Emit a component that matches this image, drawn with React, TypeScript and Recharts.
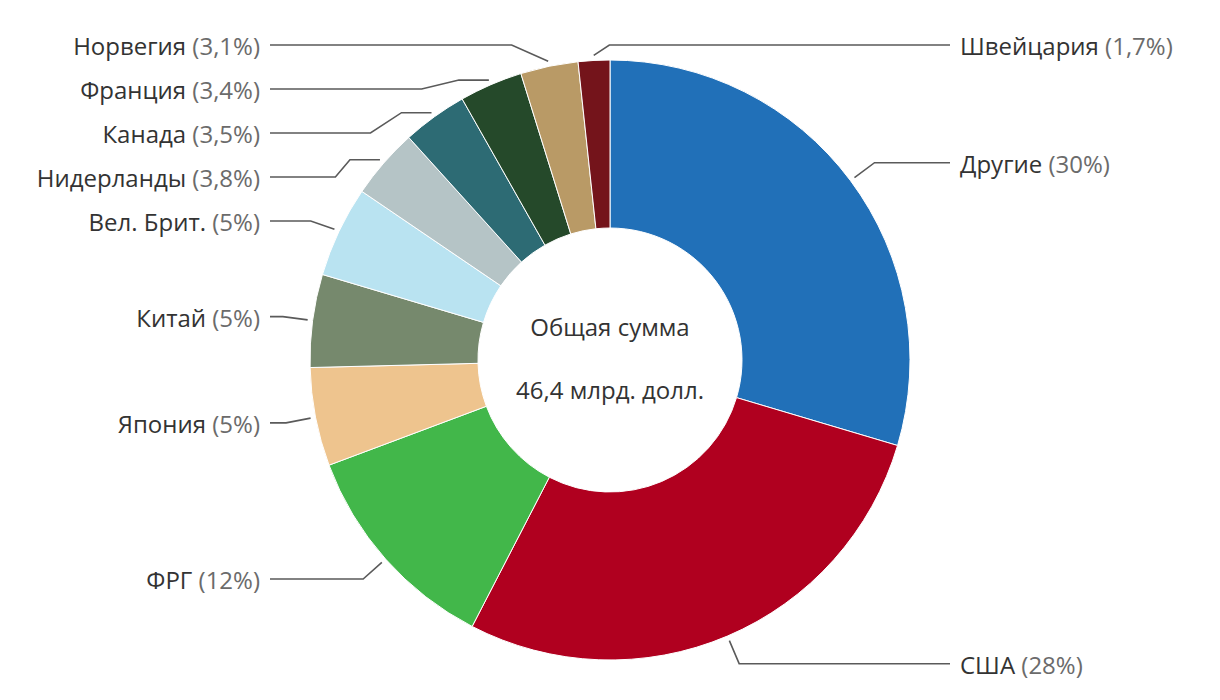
import { Cell, Label, Pie, PieChart } from "recharts";

const countries = [
  "Другие",
  "США",
  "ФРГ",
  "Япония",
  "Китай",
  "Вел. Брит.",
  "Нидерланды",
  "Канада",
  "Франция",
  "Норвегия",
  "Швейцария",
];
// shares (labels show them rounded)
const shares = [29.6, 28, 11.7, 5.3, 5, 4.9, 3.8, 3.5, 3.4, 3.1, 1.7];
const shareLabels = ["30%", "28%", "12%", "5%", "5%", "5%", "3,8%", "3,5%", "3,4%", "3,1%", "1,7%"];
const colors = [
  "#2170b8",
  "#b0001f",
  "#42b74a",
  "#eec48e",
  "#76896d",
  "#b9e3f1",
  "#b5c4c6",
  "#2d6b74",
  "#25492a",
  "#b99a66",
  "#74141b",
];
const centerLines = ["Общая сумма", "46,4 млрд. долл."];

const data = countries.map((name, i) => ({ name, value: shares[i] }));

const FONT = "'Open Sans', 'Noto Sans', sans-serif";
const FONT_SIZE = 24;
const LINE_GAP = 44;

// mid angles, clockwise from 12 o'clock, same order the pie draws them
const total = shares.reduce((a, b) => a + b, 0);
const mids = (() => {
  let acc = 0;
  return shares.map((v) => {
    const m = ((acc + v / 2) / total) * 360;
    acc += v;
    return m;
  });
})();

function layoutLabels(cx: number, cy: number, R: number) {
  const rStart = R + 5;
  const rElbow = R + 30;
  const items = mids.map((deg, i) => {
    const a = (deg * Math.PI) / 180;
    const sin = Math.sin(a);
    const cos = Math.cos(a);
    return {
      i,
      sin,
      cos,
      sx: cx + rStart * sin,
      sy: cy - rStart * cos,
      ny: cy - rElbow * cos,
      side: sin > -0.1 ? 1 : -1,
      y: 0,
    };
  });

  for (const side of [1, -1]) {
    const group = items.filter((d) => d.side === side).sort((a, b) => a.ny - b.ny);
    let prev = -Infinity;
    for (const d of group) {
      d.y = Math.max(d.ny, prev + LINE_GAP, cy - R - 15);
      prev = d.y;
    }
  }

  return items.map((d) => {
    const pts: [number, number][] = [[d.sx, d.sy]];
    const againstOutward = (d.cos > 0 && d.y > d.sy) || (d.cos < 0 && d.y < d.sy);
    if (againstOutward) pts.push([d.sx + d.side * 30, d.sy]);
    let ex: number;
    if (d.side * d.sin < 0) {
      ex = d.sx + d.side * Math.abs(d.y - d.sy) * 1.5;
    } else {
      const dy = d.y - cy;
      ex = cx + d.side * Math.sqrt(Math.max(rElbow * rElbow - dy * dy, 0));
    }
    pts.push([ex, d.y]);
    pts.push([cx + d.side * 340, d.y]);
    return { ...d, pts, tx: cx + d.side * 350 };
  });
}

function renderLabel(props: any) {
  const { cx, cy, outerRadius, index } = props;
  const d = layoutLabels(cx, cy, outerRadius)[index];
  const path = d.pts.map((p, k) => `${k ? "L" : "M"}${p[0]},${p[1]}`).join(" ");
  return (
    <g key={`lbl-${index}`}>
      <path d={path} fill="none" stroke="#5a5a5a" strokeWidth={1.6} />
      <text
        x={d.tx}
        y={d.y}
        textAnchor={d.side === 1 ? "start" : "end"}
        dominantBaseline="central"
        fontFamily={FONT}
        fontSize={FONT_SIZE}
      >
        <tspan fill="#333">{countries[index]} </tspan>
        <tspan fill="#6b6b6b">({shareLabels[index]})</tspan>
      </text>
    </g>
  );
}

function CenterText(props: any) {
  const vb = props.viewBox || {};
  const cx = vb.cx ?? 610;
  const cy = vb.cy ?? 360;
  return (
    <g>
      <text x={cx} y={cy - 34} textAnchor="middle" dominantBaseline="central" fontFamily={FONT} fontSize={FONT_SIZE} fill="#333">
        {centerLines[0]}
      </text>
      <text x={cx} y={cy + 29} textAnchor="middle" dominantBaseline="central" fontFamily={FONT} fontSize={FONT_SIZE} fill="#333">
        {centerLines[1]}
      </text>
    </g>
  );
}

export default function App() {
  return (
    <div style={{ position: "absolute", left: 0, top: 0, width: 1220, height: 700, background: "#fff" }}>
      <PieChart width={1220} height={700} margin={{ top: 0, right: 0, bottom: 0, left: 0 }}>
        <Pie
          data={data}
          dataKey="value"
          nameKey="name"
          cx={610}
          cy={360}
          innerRadius={132}
          outerRadius={300}
          startAngle={90}
          endAngle={-270}
          stroke="#fff"
          strokeWidth={1}
          label={renderLabel}
          labelLine={false}
          isAnimationActive={false}
        >
          {data.map((d, i) => (
            <Cell key={d.name} fill={colors[i]} />
          ))}
          <Label position="center" content={<CenterText />} />
        </Pie>
      </PieChart>
    </div>
  );
}
